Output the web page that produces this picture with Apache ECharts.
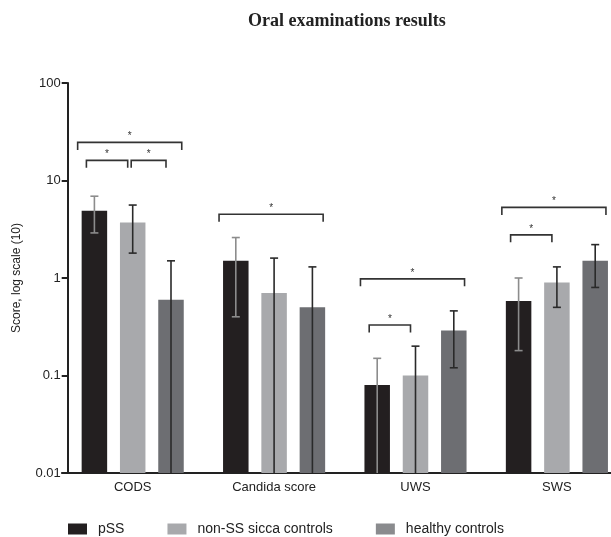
<!DOCTYPE html>
<html>
<head>
<meta charset="utf-8">
<script src="https://cdn.jsdelivr.net/npm/echarts@6/dist/echarts.min.js"></script>
<style>
  html, body { margin: 0; padding: 0; background: #fff; overflow: hidden; }
  /* the plot area runs past the right edge of the window */
  #chart { width: 640px; height: 537px; }
</style>
</head>
<body>
<div id="chart"></div>
<script>
// Oral examination scores per group, medians with range whiskers (log scale)
const categories = ['CODS', 'Candida score', 'UWS', 'SWS'];
const groupNames = ['pSS', 'non-SS sicca controls', 'healthy controls'];
const yTicks = [0.01, 0.1, 1, 10, 100];

const pssValues = [4.9, 1.5, 0.08, 0.58];
const pssLow = [2.9, 0.4, null, 0.18];
const pssHigh = [6.9, 2.6, 0.15, 1.0];

const siccaValues = [3.7, 0.7, 0.1, 0.9];
const siccaLow = [1.8, null, null, 0.5];
const siccaHigh = [5.6, 1.6, 0.2, 1.3];

const healthyValues = [0.6, 0.5, 0.29, 1.5];
const healthyLow = [null, null, 0.12, 0.8];
const healthyHigh = [1.5, 1.3, 0.46, 2.2];

// significant comparisons: category, group from, group to, bracket level
const sigCategory = [0, 0, 0, 1, 2, 2, 3, 3];
const sigFrom = [0, 0, 1, 0, 0, 0, 0, 0];
const sigTo = [2, 1, 2, 2, 2, 1, 2, 1];
const sigLevel = [24.6, 16.1, 16.1, 4.5, 0.98, 0.33, 5.3, 2.77];
const sigMark = '*';

const barColors = ['#231f20', '#a8a9ac', '#6d6e72'];
const legendColors = ['#231f20', '#a8a9ac', '#8a8b8e'];
const whiskerColors = ['#8c8c8c', '#2a2a2a', '#2a2a2a'];

const BAR_W = 25.5;
const BAR_STEP = 38.3;
const AXIS_MIN = yTicks[0];
const AXIS_MAX = yTicks[yTicks.length - 1];
const FONT = 'Liberation Sans, Arial, sans-serif';

const series = [
  { v: pssValues, lo: pssLow, hi: pssHigh },
  { v: siccaValues, lo: siccaLow, hi: siccaHigh },
  { v: healthyValues, lo: healthyLow, hi: healthyHigh }
];

function barCenterX(api, cat, g) {
  return api.coord([cat, 1])[0] + (g - 1) * BAR_STEP;
}

function whiskerSeries(g) {
  const s = series[g];
  return {
    type: 'custom',
    name: groupNames[g] + ' range',
    z: 5,
    silent: true,
    data: categories.map((c, i) => [i, s.hi[i]]),
    renderItem: function (params, api) {
      const i = api.value(0);
      const x = barCenterX(api, i, g);
      const yHi = api.coord([i, s.hi[i]])[1];
      const hasLow = s.lo[i] != null;
      const yLo = api.coord([i, hasLow ? s.lo[i] : AXIS_MIN])[1];
      const style = { stroke: whiskerColors[g], lineWidth: 1.6 };
      const cap = 4;
      const children = [
        { type: 'line', shape: { x1: x, y1: yHi, x2: x, y2: yLo }, style: style },
        { type: 'line', shape: { x1: x - cap, y1: yHi, x2: x + cap, y2: yHi }, style: style }
      ];
      if (hasLow) {
        children.push({ type: 'line', shape: { x1: x - cap, y1: yLo, x2: x + cap, y2: yLo }, style: style });
      }
      return { type: 'group', children: children };
    }
  };
}

const bracketSeries = {
  type: 'custom',
  name: 'significance',
  z: 6,
  silent: true,
  data: sigCategory.map((c, k) => [c, sigLevel[k]]),
  renderItem: function (params, api) {
    const k = params.dataIndex;
    const cat = sigCategory[k];
    const a = sigFrom[k], b = sigTo[k];
    const y = api.coord([cat, sigLevel[k]])[1];
    let x1, x2;
    if (b - a > 1) {
      x1 = barCenterX(api, cat, a) - BAR_W / 2 - 4;
      x2 = barCenterX(api, cat, b) + BAR_W / 2 - 2;
    } else {
      x1 = barCenterX(api, cat, a) - 8;
      x2 = barCenterX(api, cat, b) - 5;
      // leave a small gap after a neighbouring bracket on the same level
      for (let m = 0; m < sigCategory.length; m++) {
        if (m !== k && sigCategory[m] === cat && sigLevel[m] === sigLevel[k] && sigTo[m] === a) {
          x1 = barCenterX(api, cat, a) - 5 + 3.5;
        }
      }
    }
    const leg = 7.5;
    const style = { stroke: '#333', lineWidth: 1.6, fill: null };
    return {
      type: 'group',
      children: [
        { type: 'polyline', shape: { points: [[x1, y + leg], [x1, y], [x2, y], [x2, y + leg]] }, style: style },
        { type: 'text', x: (x1 + x2) / 2, y: y - 1,
          style: { text: sigMark, fill: '#333', fontSize: 10, fontFamily: FONT,
                   align: 'center', verticalAlign: 'bottom' } }
      ]
    };
  }
};

const barSeries = series.map((s, g) => ({
  type: 'bar',
  name: groupNames[g],
  data: s.v,
  barWidth: BAR_W,
  barGap: ((BAR_STEP - BAR_W) / BAR_W * 100).toFixed(1) + '%',
  itemStyle: { color: barColors[g] },
  silent: true,
  z: 2
}));

const logAxisBase = {
  type: 'log',
  logBase: 10,
  min: AXIS_MIN,
  max: AXIS_MAX,
  startValue: AXIS_MIN,
  splitLine: { show: false },
  minorTick: { show: false }
};

const chart = echarts.init(document.getElementById('chart'), null, { renderer: 'canvas' });

chart.setOption({
  animation: false,
  backgroundColor: '#fff',
  title: {
    text: 'Oral examinations results',
    left: 243,
    top: 7,
    textStyle: { fontFamily: 'Liberation Serif, Times New Roman, serif', fontWeight: 'bold', fontSize: 18, color: '#222' }
  },
  legend: {
    data: groupNames.map((n, g) => ({ name: n, itemStyle: { color: legendColors[g] } })),
    left: 68,
    top: 522,
    padding: 0,
    icon: 'rect',
    itemWidth: 19,
    itemHeight: 11,
    itemGap: 43,
    textStyle: { fontFamily: FONT, fontSize: 14, color: '#222', padding: [0, 0, 0, 6] }
  },
  grid: [
    // plotting grid: category bands start a little left of the value axis line
    { left: 62, top: 83, width: 565.6, bottom: 64, containLabel: false },
    // same vertical extent, carries the visible value axis
    { left: 67.7, top: 83, width: 543, bottom: 64, containLabel: false }
  ],
  xAxis: [
    {
      type: 'category',
      gridIndex: 0,
      data: categories,
      axisLine: { lineStyle: { color: '#222', width: 2 } },
      axisTick: { alignWithLabel: true, length: 6, lineStyle: { color: '#222', width: 2 } },
      axisLabel: { color: '#222', fontSize: 13, margin: 8, fontFamily: FONT },
      splitLine: { show: false }
    },
    { type: 'category', gridIndex: 1, data: categories, show: false }
  ],
  yAxis: [
    Object.assign({}, logAxisBase, { gridIndex: 0, show: false }),
    Object.assign({}, logAxisBase, {
      gridIndex: 1,
      name: 'Score, log scale (10)',
      nameLocation: 'middle',
      nameGap: 45,
      nameTextStyle: { color: '#222', fontSize: 12, fontFamily: FONT },
      axisLine: { show: true, lineStyle: { color: '#222', width: 2 } },
      axisTick: { show: true, length: 6, lineStyle: { color: '#222', width: 2 } },
      axisLabel: {
        color: '#222', fontSize: 13, margin: 7, fontFamily: FONT,
        formatter: function (v) { return String(+v.toPrecision(3)); }
      }
    })
  ],
  series: barSeries.concat([whiskerSeries(0), whiskerSeries(1), whiskerSeries(2), bracketSeries])
});
</script>
</body>
</html>
